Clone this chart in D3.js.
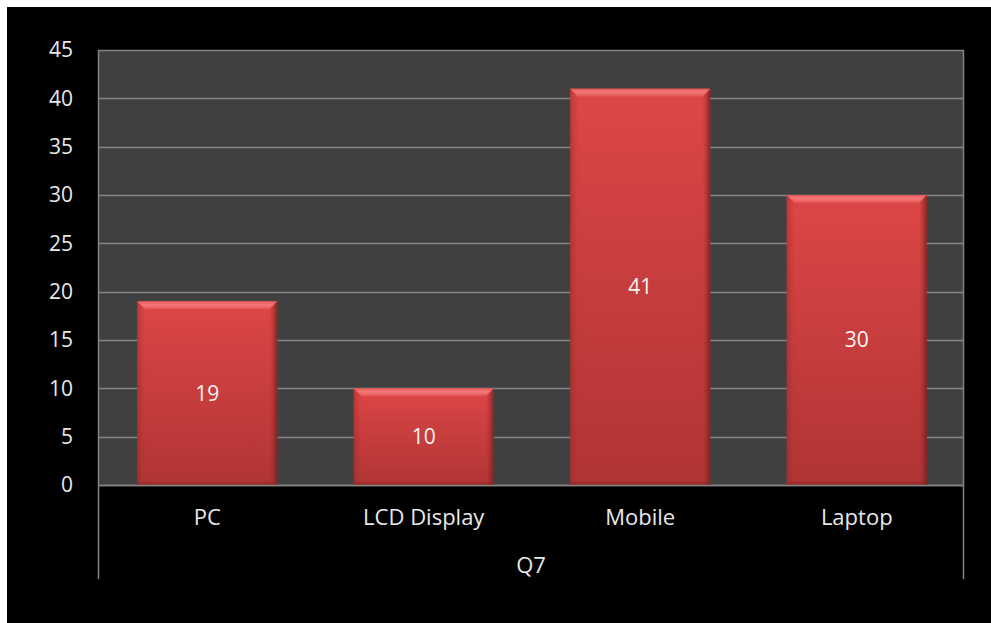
<!DOCTYPE html>
<html>
<head>
<meta charset="utf-8">
<script src="https://cdn.jsdelivr.net/npm/d3@7"></script>
<style>
html,body{margin:0;padding:0;background:#fff;}
svg{display:block;}
text{font-family:"Open Sans","DejaVu Sans",sans-serif;}
</style>
</head>
<body>
<script>
const categories = ["PC", "LCD Display", "Mobile", "Laptop"];
const values = [19, 10, 41, 30];
const yTicks = [0, 5, 10, 15, 20, 25, 30, 35, 40, 45];
const groupLabel = "Q7";

(function () {
const W = 991, H = 623;
const svg = d3.select("body").append("svg").attr("width", W).attr("height", H);

// black chart area
svg.append("rect").attr("x", 7).attr("y", 7).attr("width", W - 7).attr("height", H - 7).attr("fill", "#000");

const pL = 98, pR = 964, pT = 50, pB = 485;
const x = d3.scaleBand().domain(categories).range([pL, pR]).padding(0);
const y = d3.scaleLinear().domain([0, 45]).range([pB, pT]);

// plot background
svg.append("rect").attr("x", pL).attr("y", pT).attr("width", pR - pL).attr("height", pB - pT).attr("fill", "#404040");

// gridlines
svg.append("g").selectAll("line").data(yTicks).join("line")
  .attr("x1", pL).attr("x2", pR)
  .attr("y1", d => Math.round(y(d)) + 0.5).attr("y2", d => Math.round(y(d)) + 0.5)
  .attr("stroke", "#858585").attr("stroke-width", 1.5);

// plot borders
svg.append("line").attr("x1", pL + 0.5).attr("x2", pL + 0.5).attr("y1", pT).attr("y2", 579).attr("stroke", "#858585").attr("stroke-width", 1.5);
svg.append("line").attr("x1", pR - 0.5).attr("x2", pR - 0.5).attr("y1", pT).attr("y2", 579).attr("stroke", "#858585").attr("stroke-width", 1.5);

// y tick labels
svg.append("g").selectAll("text").data(yTicks).join("text")
  .attr("x", 73).attr("y", d => y(d)).attr("dy", "0.35em")
  .attr("text-anchor", "end").attr("fill", "#e8e8e8").attr("font-size", 21)
  .text(d => d);

// gradients
const defs = svg.append("defs");
const g1 = defs.append("linearGradient").attr("id", "barGrad").attr("x1", 0).attr("y1", 0).attr("x2", 0).attr("y2", 1);
g1.append("stop").attr("offset", "0%").attr("stop-color", "#de4646");
g1.append("stop").attr("offset", "100%").attr("stop-color", "#b03434");
const gTop = defs.append("linearGradient").attr("id", "topGrad").attr("x1", 0).attr("y1", 0).attr("x2", 0).attr("y2", 1);
gTop.append("stop").attr("offset", "0%").attr("stop-color", "#e85a5a");
gTop.append("stop").attr("offset", "45%").attr("stop-color", "#f47878");
gTop.append("stop").attr("offset", "100%").attr("stop-color", "#e45252");
const gR = defs.append("linearGradient").attr("id", "rightGrad").attr("x1", 0).attr("y1", 0).attr("x2", 1).attr("y2", 0);
gR.append("stop").attr("offset", "0%").attr("stop-color", "#a83030").attr("stop-opacity", 0.0);
gR.append("stop").attr("offset", "100%").attr("stop-color", "#6a1c1c").attr("stop-opacity", 0.8);
const gL = defs.append("linearGradient").attr("id", "leftGrad").attr("x1", 0).attr("y1", 0).attr("x2", 1).attr("y2", 0);
gL.append("stop").attr("offset", "0%").attr("stop-color", "#8a2626").attr("stop-opacity", 0.45);
gL.append("stop").attr("offset", "100%").attr("stop-color", "#a83030").attr("stop-opacity", 0.0);

const bw = x.bandwidth() * 0.647;
const bev = 8;
const bars = svg.append("g").selectAll("g").data(categories).join("g");
bars.each(function (c, i) {
  const g = d3.select(this);
  const x0 = x(c) + (x.bandwidth() - bw) / 2 + 1, x1 = x0 + bw;
  const yt = y(values[i]), yb = y(0);
  g.append("rect").attr("x", x0).attr("y", yt).attr("width", bw).attr("height", yb - yt).attr("fill", "url(#barGrad)");
  g.append("polygon").attr("points", [[x0, yt], [x1, yt], [x1 - bev, yt + bev], [x0 + bev, yt + bev]].map(p => p.join(",")).join(" "))
    .attr("fill", "url(#topGrad)");
  g.append("polygon").attr("points", [[x1, yt], [x1, yb], [x1 - bev, yb], [x1 - bev, yt + bev]].map(p => p.join(",")).join(" "))
    .attr("fill", "url(#rightGrad)");
  g.append("polygon").attr("points", [[x0, yt], [x0 + bev, yt + bev], [x0 + bev, yb], [x0, yb]].map(p => p.join(",")).join(" "))
    .attr("fill", "url(#leftGrad)");
  g.append("rect").attr("x", x0).attr("y", yb - 3).attr("width", bw).attr("height", 3).attr("fill", "#7a2020").attr("opacity", 0.35);
  g.append("text").attr("x", x0 + bw / 2).attr("y", (yt + yb) / 2).attr("dy", "0.35em")
    .attr("text-anchor", "middle").attr("fill", "#f4f4f4").attr("font-size", 21).text(values[i]);
});

// zero line
svg.append("line").attr("x1", pL).attr("x2", pR).attr("y1", pB + 0.5).attr("y2", pB + 0.5).attr("stroke", "#858585").attr("stroke-width", 1.5);

// category labels
svg.append("g").selectAll("text").data(categories).join("text")
  .attr("x", d => x(d) + x.bandwidth() / 2 + 1).attr("y", 517).attr("dy", "0.35em")
  .attr("text-anchor", "middle").attr("fill", "#e8e8e8").attr("font-size", 22).text(d => d);

svg.append("text").attr("x", (pL + pR) / 2).attr("y", 565).attr("dy", "0.35em")
  .attr("text-anchor", "middle").attr("fill", "#e8e8e8").attr("font-size", 22).text(groupLabel);
})();
</script>
</body>
</html>
